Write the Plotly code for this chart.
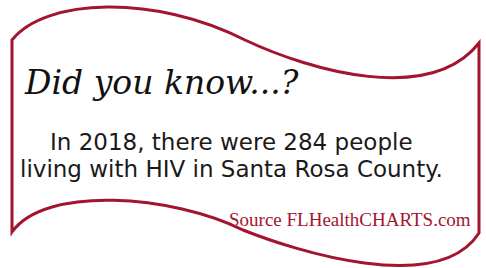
import plotly.graph_objects as go

# Content
title_text = ["Did you know...?"]
body_lines = ["In 2018, there were 284 people", "living with HIV in Santa Rosa County."]
source_text = ["Source FLHealthCHARTS.com"]

W, H = 486, 268
RED = "#a3152f"

banner_path = (
    "M 12 40 C 45 -2, 155 -6, 245 40 "
    "C 311 71, 430 105, 479 43 "
    "L 479 233 "
    "C 438 297, 293 250, 243 230 "
    "C 173 195, 45 185, 12 232 Z"
)

fig = go.Figure()
fig.add_shape(type="path", path=banner_path, xref="x", yref="y",
              line=dict(color=RED, width=3), fillcolor="white", layer="below")

fig.add_annotation(x=22, y=82, text=title_text[0], showarrow=False, xanchor="left", yanchor="middle",
                   font=dict(family="DejaVu Serif", size=33, color="#111111", style="italic"))
fig.add_annotation(x=231, y=142, text=body_lines[0], showarrow=False, xanchor="center", yanchor="middle",
                   font=dict(family="DejaVu Sans", size=23, color="#1a1a1a"))
fig.add_annotation(x=231, y=169, text=body_lines[1], showarrow=False, xanchor="center", yanchor="middle",
                   font=dict(family="DejaVu Sans", size=23, color="#1a1a1a"))
fig.add_annotation(x=473, y=219, text=source_text[0], showarrow=False, xanchor="right", yanchor="middle",
                   font=dict(family="Liberation Serif", size=19, color=RED))

fig.update_layout(
    width=W, height=H, margin=dict(l=0, r=0, t=0, b=0),
    paper_bgcolor="white", plot_bgcolor="white", showlegend=False,
    xaxis=dict(range=[0, W], visible=False, fixedrange=True),
    yaxis=dict(range=[H, 0], visible=False, fixedrange=True),
)
fig.write_html("out.html", config={"displayModeBar": False},
               post_script="document.body.style.margin='0';document.body.style.overflow='hidden';")
